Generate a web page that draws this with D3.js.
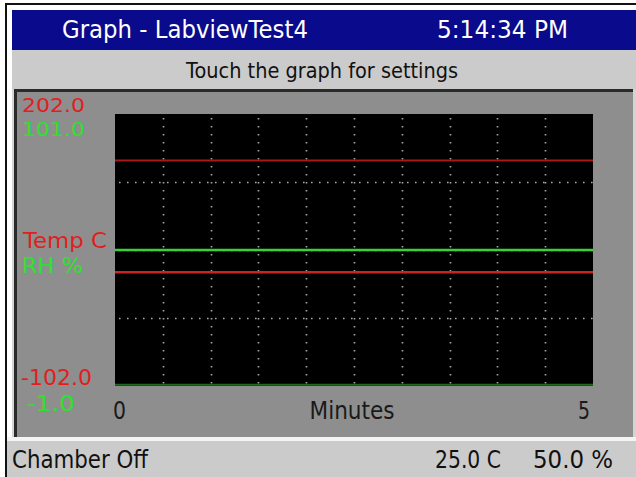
<!DOCTYPE html>
<html>
<head>
<meta charset="utf-8">
<script src="https://cdn.jsdelivr.net/npm/d3@7"></script>
<style>
  html, body { margin: 0; padding: 0; background: #ffffff; }
  svg { display: block; }
  text { font-family: "DejaVu Sans", sans-serif; }
</style>
</head>
<body>
<svg id="chart" width="636" height="477"></svg>
<script>
// ---- data ----
const timeDomain = [0, 5];                 // minutes
const tempDomain = [-102.0, 202.0];        // Temp C axis
const rhDomain = [-1.0, 101.0];            // RH % axis
const times = [0, 5];
const tempLimit = [150, 150];              // upper red line
const tempValues = [25.0, 25.0];           // Temp C
const rhValues = [50.0, 50.0];             // RH %
const rhLow = [-0.5, -0.5];                // green line on bottom edge
const xGridTicks = [0.5, 1, 1.5, 2, 2.5, 3, 3.5, 4, 4.5];
const yGridTicks = [-26, 50, 126];         // temp-axis grid levels
const xTickLabels = ["0", "5"];
const titleText = "Graph - LabviewTest4";
const clockText = "5:14:34 PM";
const subtitleText = "Touch the graph for settings";
const statusText = "Chamber Off";
const tempReadout = "25.0 C";
const rhReadout = "50.0 %";

const svg = d3.select("#chart");
const fmt = d3.formatLocale({decimal: ".", thousands: ",", grouping: [3], currency: ["", ""], minus: "-"}).format(".1f");

// ---- frame ----
svg.append("rect").attr("x", 5).attr("y", 3).attr("width", 631).attr("height", 2).attr("fill", "#111");
svg.append("rect").attr("x", 5).attr("y", 3).attr("width", 2).attr("height", 474).attr("fill", "#111");
svg.append("rect").attr("x", 12).attr("y", 10).attr("width", 624).attr("height", 40).attr("fill", "#0a0a8c");
svg.append("rect").attr("x", 12).attr("y", 50).attr("width", 624).attr("height", 39).attr("fill", "#cbcbcb");
svg.append("rect").attr("x", 12).attr("y", 89).attr("width", 624).attr("height", 350).attr("fill", "#d4d4d4");
svg.append("rect").attr("x", 14).attr("y", 89).attr("width", 619).attr("height", 3).attr("fill", "#2a2a2a");
svg.append("rect").attr("x", 14).attr("y", 89).attr("width", 3).attr("height", 348).attr("fill", "#2a2a2a");
svg.append("rect").attr("x", 17).attr("y", 92).attr("width", 616).attr("height", 345).attr("fill", "#8e8e8e");
svg.append("rect").attr("x", 7).attr("y", 437).attr("width", 629).attr("height", 4).attr("fill", "#f4f4f4");
svg.append("rect").attr("x", 7).attr("y", 441).attr("width", 629).attr("height", 36).attr("fill", "#cbcbcb");

function label(str, x, y, size, color, width, anchor) {
  const t = svg.append("text")
    .attr("x", x).attr("y", y)
    .attr("font-size", size)
    .attr("fill", color)
    .attr("text-anchor", anchor || "start")
    .text(str);
  if (width) t.attr("textLength", width).attr("lengthAdjust", "spacingAndGlyphs");
  return t;
}

// ---- header ----
label(titleText, 62, 38, 24, "#ffffff", 246);
label(clockText, 437, 38, 24, "#ffffff", 131);
label(subtitleText, 322, 78, 22, "#111111", 272, "middle");

// ---- plot ----
const plot = { left: 115, right: 593, top: 114, bottom: 386 };
const x = d3.scaleLinear().domain(timeDomain).range([plot.left, plot.right]);
const yT = d3.scaleLinear().domain(tempDomain).range([plot.bottom, plot.top]);
const yR = d3.scaleLinear().domain(rhDomain).range([plot.bottom, plot.top]);

svg.append("rect")
  .attr("x", plot.left).attr("y", plot.top)
  .attr("width", plot.right - plot.left).attr("height", plot.bottom - plot.top)
  .attr("fill", "#000000");

const grid = svg.append("g").attr("stroke", "#a8a8a8").attr("stroke-width", 1.6)
  .attr("stroke-dasharray", "1.6 6.4");
grid.selectAll("line.v").data(xGridTicks).join("line").attr("class", "v")
  .attr("x1", d => Math.round(x(d)) + 0.5).attr("x2", d => Math.round(x(d)) + 0.5)
  .attr("y1", plot.top + 4).attr("y2", plot.bottom);
grid.selectAll("line.h").data(yGridTicks).join("line").attr("class", "h")
  .attr("y1", d => Math.round(yT(d)) + 0.5).attr("y2", d => Math.round(yT(d)) + 0.5)
  .attr("x1", plot.left + 4).attr("x2", plot.right);

const lineT = d3.line().x((d, i) => x(times[i])).y(d => yT(d));
const lineR = d3.line().x((d, i) => x(times[i])).y(d => yR(d));

svg.append("path").datum(rhLow).attr("d", lineR).attr("fill", "none")
  .attr("stroke", "#1f6a1f").attr("stroke-width", 2);
svg.append("path").datum(tempLimit).attr("d", lineT).attr("fill", "none")
  .attr("stroke", "#a81818").attr("stroke-width", 2);
svg.append("path").datum(tempValues).attr("d", lineT).attr("fill", "none")
  .attr("stroke", "#cc2424").attr("stroke-width", 2.5);
svg.append("path").datum(rhValues).attr("d", lineR).attr("fill", "none")
  .attr("stroke", "#3ccf3c").attr("stroke-width", 2.5);

// ---- axis labels ----
const red = "#e02020", green = "#2ee02e";
label(fmt(tempDomain[1]), 22, 112, 20, red, 63);
label(fmt(rhDomain[1]), 22, 136, 20, green, 63);
label("Temp C", 23, 248, 21, red, 84);
label("RH %", 22, 273, 21, green, 61);
label(fmt(tempDomain[0]), 21, 385, 21, red, 71);
label(fmt(rhDomain[0]), 27, 411, 21, green, 48);

label(xTickLabels[0], x(timeDomain[0]) - 2, 419, 24, "#1a1a1a", 13);
label(xTickLabels[1], x(timeDomain[1]) - 15, 419, 24, "#1a1a1a", 12);
label("Minutes", (plot.left + plot.right) / 2 - 2, 419, 24, "#1a1a1a", 85, "middle");

// ---- status bar ----
label(statusText, 12, 468, 24, "#111111", 136);
label(tempReadout, 435, 468, 24, "#111111", 66);
label(rhReadout, 533, 468, 24, "#111111", 80);
</script>
</body>
</html>
